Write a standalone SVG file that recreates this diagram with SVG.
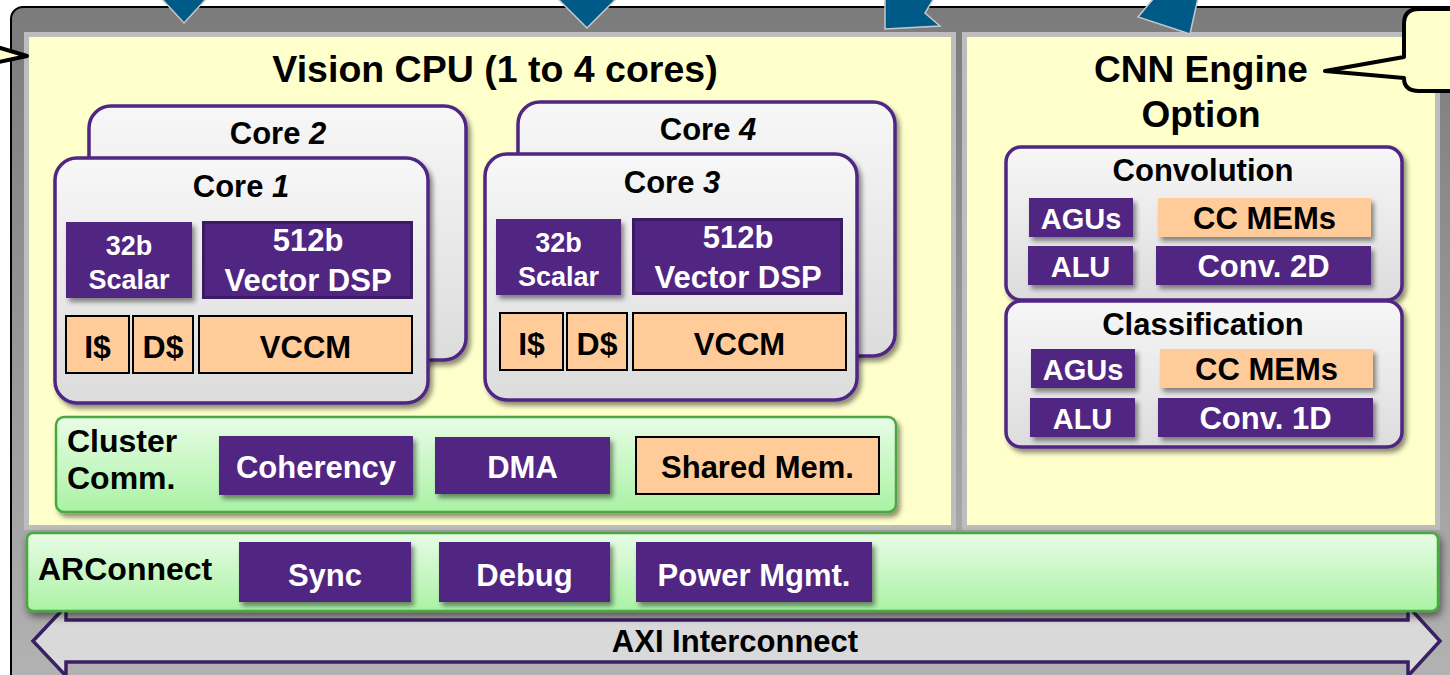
<svg xmlns="http://www.w3.org/2000/svg" width="1450" height="675" viewBox="0 0 1450 675">
  <defs>
    <linearGradient id="gOuter" x1="0" y1="0" x2="0" y2="1">
      <stop offset="0" stop-color="#7b7b7b"/>
      <stop offset="1" stop-color="#b4b4b4"/>
    </linearGradient>
    <linearGradient id="gCore" x1="0" y1="0" x2="0" y2="1">
      <stop offset="0" stop-color="#f7f7f7"/>
      <stop offset="1" stop-color="#dcdcdc"/>
    </linearGradient>
    <linearGradient id="gGreen" x1="0" y1="0" x2="0" y2="1">
      <stop offset="0" stop-color="#e8fce6"/>
      <stop offset="1" stop-color="#aaf2a4"/>
    </linearGradient>
    <filter id="shadow" x="-10%" y="-10%" width="130%" height="140%">
      <feGaussianBlur in="SourceAlpha" stdDeviation="2.5"/>
      <feOffset dx="3" dy="4" result="o"/>
      <feComponentTransfer><feFuncA type="linear" slope="0.45"/></feComponentTransfer>
      <feMerge><feMergeNode/><feMergeNode in="SourceGraphic"/></feMerge>
    </filter>
    <filter id="shadowBig" x="-5%" y="-20%" width="110%" height="150%">
      <feGaussianBlur in="SourceAlpha" stdDeviation="4"/>
      <feOffset dx="2" dy="4" result="o"/>
      <feComponentTransfer><feFuncA type="linear" slope="0.55"/></feComponentTransfer>
      <feMerge><feMergeNode/><feMergeNode in="SourceGraphic"/></feMerge>
    </filter>
  </defs>
  <style>
    text { font-family: "Liberation Sans", Arial, sans-serif; font-weight: bold; text-anchor: middle; }
    .dark { fill: #000; }
    .light { fill: #fff; }
    .left { text-anchor: start; }
    .panel { fill: #ffffcc; stroke: #bdbdbd; stroke-width: 5; }
    .core { fill: url(#gCore); stroke: #4f2683; stroke-width: 3.5; }
    .purple { fill: #512682; }
    .vec { fill: #512682; stroke: #3c1a66; stroke-width: 3; }
    .mem { fill: #ffcc99; stroke: #000; stroke-width: 2; }
    .memflat { fill: #ffcc99; }
    .green { fill: url(#gGreen); stroke: #4aa83f; stroke-width: 2.5; }
    .callout { fill: #ffffcc; stroke: #000; stroke-width: 4; stroke-linejoin: round; }
    .blue { fill: #005a87; stroke: #c8c8c8; stroke-width: 1.5; }
    .title { font-size: 37.5px; }
    .t37 { font-size: 37px; }
    .t32 { font-size: 32px; }
    .t31 { font-size: 31px; }
    .t29 { font-size: 29px; }
    .t27 { font-size: 27px; }
  </style>

  <!-- white page -->
  <rect x="0" y="0" width="1450" height="675" fill="#fff"/>

  <!-- outer processor frame -->
  <g id="frame">
    <rect x="11" y="7" width="1460" height="690" rx="12" fill="url(#gOuter)" stroke="#000" stroke-width="2"/>
  </g>

  <!-- Vision CPU panel -->
  <g id="vision-cpu">
    <rect class="panel" x="26.5" y="34.5" width="927" height="493"/>
    <text class="title dark" x="495" y="82">Vision CPU (1 to 4 cores)</text>
  </g>

  <!-- CNN engine panel -->
  <g id="cnn-engine">
    <rect class="panel" x="964.5" y="34.5" width="473" height="493"/>
    <text class="t37 dark" x="1201" y="82">CNN Engine</text>
    <text class="t37 dark" x="1201" y="127">Option</text>
  </g>

  <!-- Core 2 (behind Core 1) -->
  <g id="core2">
    <rect class="core" x="89" y="106" width="377" height="254" rx="22" filter="url(#shadow)"/>
    <text class="t31 dark" x="278" y="144">Core <tspan font-style="italic">2</tspan></text>
  </g>

  <!-- Core 1 -->
  <g id="core1">
    <rect class="core" x="55" y="158" width="373" height="245" rx="22" filter="url(#shadow)"/>
    <text class="t31 dark" x="241" y="197">Core <tspan font-style="italic">1</tspan></text>
    <rect class="purple" x="66" y="222" width="126" height="76" filter="url(#shadow)"/>
    <text class="t27 light" x="129" y="255">32b</text>
    <text class="t27 light" x="129" y="289">Scalar</text>
    <rect class="vec" x="203.5" y="222.5" width="208" height="75"/>
    <text class="t31 light" x="308" y="251">512b</text>
    <text class="t31 light" x="308" y="291">Vector DSP</text>
    <rect class="mem" x="66" y="316" width="63" height="57"/>
    <text class="t32 dark" x="97.5" y="358">I$</text>
    <rect class="mem" x="133" y="316" width="60" height="57"/>
    <text class="t32 dark" x="163" y="358">D$</text>
    <rect class="mem" x="199" y="316" width="213" height="57"/>
    <text class="t31 dark" x="305.5" y="358">VCCM</text>
  </g>

  <!-- Core 4 (behind Core 3) -->
  <g id="core4">
    <rect class="core" x="518" y="102" width="377" height="254" rx="22" filter="url(#shadow)"/>
    <text class="t31 dark" x="708" y="140">Core <tspan font-style="italic">4</tspan></text>
  </g>

  <!-- Core 3 -->
  <g id="core3">
    <rect class="core" x="485" y="154" width="372" height="246" rx="22" filter="url(#shadow)"/>
    <text class="t31 dark" x="672" y="193">Core <tspan font-style="italic">3</tspan></text>
    <rect class="purple" x="496" y="219" width="125" height="76" filter="url(#shadow)"/>
    <text class="t27 light" x="558.5" y="252">32b</text>
    <text class="t27 light" x="558.5" y="286">Scalar</text>
    <rect class="vec" x="633.5" y="219.5" width="208" height="74"/>
    <text class="t31 light" x="738" y="248">512b</text>
    <text class="t31 light" x="738" y="288">Vector DSP</text>
    <rect class="mem" x="500" y="313" width="63" height="57"/>
    <text class="t32 dark" x="531.5" y="355">I$</text>
    <rect class="mem" x="567" y="313" width="60" height="57"/>
    <text class="t32 dark" x="597" y="355">D$</text>
    <rect class="mem" x="633" y="313" width="213" height="57"/>
    <text class="t31 dark" x="739.5" y="355">VCCM</text>
  </g>

  <!-- Cluster communication -->
  <g id="cluster-comm">
    <rect class="green" x="56" y="417" width="840" height="95" rx="8" filter="url(#shadow)"/>
    <text class="t32 dark left" x="67" y="452">Cluster</text>
    <text class="t32 dark left" x="67" y="489">Comm.</text>
    <rect class="purple" x="219" y="436" width="194" height="59" filter="url(#shadow)"/>
    <text class="t31 light" x="316" y="478">Coherency</text>
    <rect class="purple" x="435" y="437" width="175" height="57" filter="url(#shadow)"/>
    <text class="t31 light" x="522.5" y="478">DMA</text>
    <rect class="mem" x="636" y="437" width="243" height="57"/>
    <text class="t31 dark" x="757.5" y="478">Shared Mem.</text>
  </g>

  <!-- Convolution block -->
  <g id="convolution">
    <rect class="core" x="1006" y="147" width="396" height="153" rx="15" filter="url(#shadow)"/>
    <text class="t31 dark" x="1203" y="181">Convolution</text>
    <rect class="purple" x="1029" y="198" width="104" height="39" filter="url(#shadow)"/>
    <text class="t29 light" x="1081" y="229">AGUs</text>
    <rect class="memflat" x="1158" y="198" width="213" height="39" filter="url(#shadow)"/>
    <text class="t31 dark" x="1264.5" y="229">CC MEMs</text>
    <rect class="purple" x="1028" y="246" width="105" height="39" filter="url(#shadow)"/>
    <text class="t29 light" x="1080.5" y="277">ALU</text>
    <rect class="purple" x="1156" y="246" width="215" height="39" filter="url(#shadow)"/>
    <text class="t31 light" x="1263.5" y="277">Conv. 2D</text>
  </g>

  <!-- Classification block -->
  <g id="classification">
    <rect class="core" x="1006" y="301" width="396" height="146" rx="15" filter="url(#shadow)"/>
    <text class="t31 dark" x="1203" y="335">Classification</text>
    <rect class="purple" x="1031" y="349" width="104" height="39" filter="url(#shadow)"/>
    <text class="t29 light" x="1083" y="380">AGUs</text>
    <rect class="memflat" x="1160" y="349" width="213" height="39" filter="url(#shadow)"/>
    <text class="t31 dark" x="1266.5" y="380">CC MEMs</text>
    <rect class="purple" x="1030" y="398" width="105" height="39" filter="url(#shadow)"/>
    <text class="t29 light" x="1082.5" y="429">ALU</text>
    <rect class="purple" x="1158" y="398" width="215" height="39" filter="url(#shadow)"/>
    <text class="t31 light" x="1265.5" y="429">Conv. 1D</text>
  </g>

  <!-- AXI interconnect (double-headed bus arrow) -->
  <g id="axi">
    <path d="M33,641 L66,606 L66,620 L1408,620 L1408,606 L1440,641 L1408,676 L1408,662 L66,662 L66,676 Z" fill="#d9d9d9" stroke="#3b1f63" stroke-width="3.5" stroke-linejoin="miter"/>
    <text class="t31 dark" x="735" y="652">AXI Interconnect</text>
  </g>

  <!-- ARConnect -->
  <g id="arconnect">
    <rect class="green" x="27" y="533" width="1411" height="78" rx="6" filter="url(#shadowBig)"/>
    <text class="t32 dark left" x="38" y="580">ARConnect</text>
    <rect class="purple" x="239" y="542" width="172" height="60" filter="url(#shadow)"/>
    <text class="t31 light" x="325" y="586">Sync</text>
    <rect class="purple" x="439" y="542" width="171" height="60" filter="url(#shadow)"/>
    <text class="t31 light" x="524.5" y="586">Debug</text>
    <rect class="purple" x="636" y="542" width="236" height="60" filter="url(#shadow)"/>
    <text class="t31 light" x="754" y="586">Power Mgmt.</text>
  </g>

  <!-- callout boxes pointing into the panels -->
  <g id="callout-left">
    <path class="callout" d="M-6,46 L27,56 L-6,63 Z"/>
  </g>
  <g id="callout-right">
    <path class="callout" d="M1404,24 Q1404,9 1419,9 L1470,9 L1470,91 L1419,91 Q1404,91 1404,78 L1325,71 L1404,57 Z"/>
  </g>

  <!-- incoming connector arrowheads along the top edge -->
  <g id="connectors">
    <path class="blue" d="M161,-2 L184,23 L207,-2 Z"/>
    <path class="blue" d="M557,-2 L587,28 L617,-2 Z"/>
    <path class="blue" d="M885,-2 L885,29 L940,26 L925,13 L934,-2 Z"/>
    <path class="blue" d="M1154,-2 L1138,17 L1190,34 L1198,-2 Z"/>
  </g>
</svg>
